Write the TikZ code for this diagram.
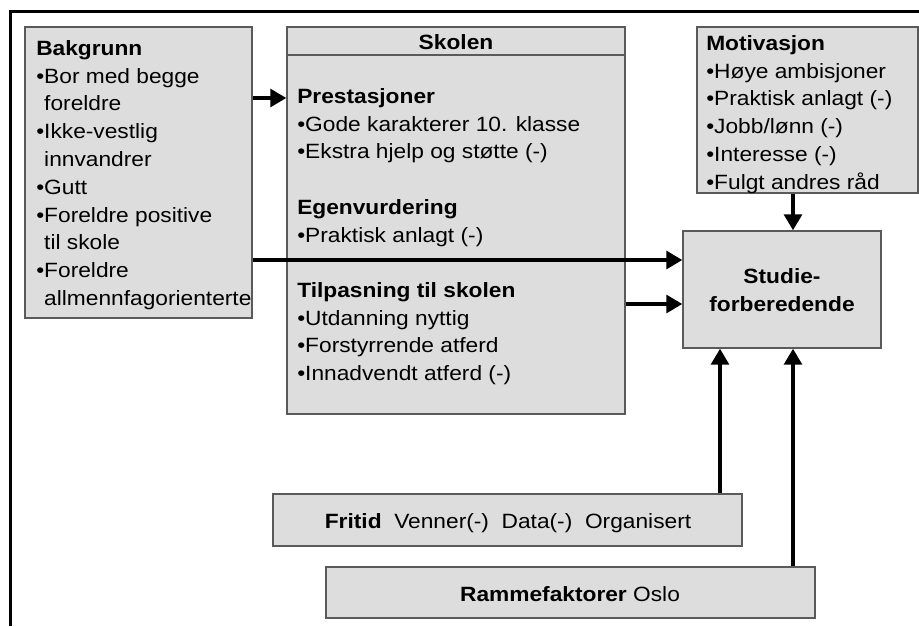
\documentclass[tikz,border=0pt]{standalone}
\usepackage{fontspec}
\setmainfont[FakeStretch=1.1]{Liberation Sans}
\usetikzlibrary{arrows.meta,fit}
\definecolor{boxfill}{HTML}{DDDDDD}
\definecolor{boxedge}{HTML}{5A5A5A}
\tikzset{
  box/.style={draw=boxedge, line width=1.1pt, fill=boxfill, inner sep=0pt},
  txt/.style={anchor=north west, inner sep=0pt, align=left,
    font=\fontsize{15.5}{20.85}\selectfont},
  mid/.style={inner sep=0pt, align=center, font=\fontsize{15.5}{20.85}\selectfont},
  arr/.style={line width=2.4pt, -{Triangle[length=12pt,width=13.5pt]}},
  frame/.style={line width=2.3pt}
}
\begin{document}
\begin{tikzpicture}[x=0.75pt,y=-0.75pt]
\useasboundingbox (0,0) rectangle (919,626);
% Frame
\draw[frame] (10.5,626) -- (10.5,11.5) -- (919,11.5);
% Boxes
\node[box, fit={(25,27) (252,318)}] (bak) {};
\node[box, fit={(287,27) (625,414)}] (sko) {};
\node[box, fit={(697,27) (918,193)}] (mot) {};
\node[box, fit={(683,231) (881,348)}] (stu) {};
\node[box, fit={(273,494) (742,546)}] (fri) {};
\node[box, fit={(326,567) (815,618)}] (ram) {};
\draw[draw=boxedge, line width=1.1pt] (sko.west |- 0,55) -- (sko.east |- 0,55);
% Labels
\node[txt] (baktxt) at (36,35.5) {\strut\textbf{Bakgrunn}\\
  •Bor med begge\\\phantom{•}foreldre\\
  •Ikke-vestlig\\\phantom{•}innvandrer\\
  •Gutt\\
  •Foreldre positive\\\phantom{•}til skole\\
  •Foreldre\\\phantom{•}allmennfagorienterte};
\node[mid, anchor=base] (skohead) at (456,49) {\textbf{Skolen}};
\node[txt] (pre) at (297,83.5) {\strut\textbf{Prestasjoner}\\
  •Gode karakterer 10. klasse\\
  •Ekstra hjelp og støtte (-)};
\node[txt] (ege) at (297,194.5) {\strut\textbf{Egenvurdering}\\
  •Praktisk anlagt (-)};
\node[txt] (til) at (297,277.5) {\strut\textbf{Tilpasning til skolen}\\
  •Utdanning nyttig\\
  •Forstyrrende atferd\\
  •Innadvendt atferd (-)};
\node[txt] (mottxt) at (706,30.5) {\strut\textbf{Motivasjon}\\
  •Høye ambisjoner\\
  •Praktisk anlagt (-)\\
  •Jobb/lønn (-)\\
  •Interesse (-)\\
  •Fulgt andres råd};
\node[mid, anchor=north] (stutxt) at (782,263.5) {\strut\textbf{Studie-}\\\textbf{forberedende}};
\node[mid, anchor=base] (fritxt) at (508,528) {\textbf{Fritid}\ \ Venner(-)\ \ Data(-)\ \ Organisert};
\node[mid, anchor=base] (ramtxt) at (570,601) {\textbf{Rammefaktorer} Oslo};
% Arrows
\coordinate (ya) at (0,98);
\coordinate (yb) at (0,260);
\coordinate (yc) at (0,304);
\coordinate (xa) at (720,0);
\coordinate (xb) at (793,0);
\draw[arr] (bak.east |- ya) -- (sko.west |- ya);
\draw[arr] (bak.east |- yb) -- (stu.west |- yb);
\draw[arr] (sko.east |- yc) -- (stu.west |- yc);
\draw[arr] (mot.south -| xb) -- (stu.north -| xb);
\draw[arr] (fri.north -| xa) -- (stu.south -| xa);
\draw[arr] (ram.north -| xb) -- (stu.south -| xb);
\end{tikzpicture}
\end{document}
